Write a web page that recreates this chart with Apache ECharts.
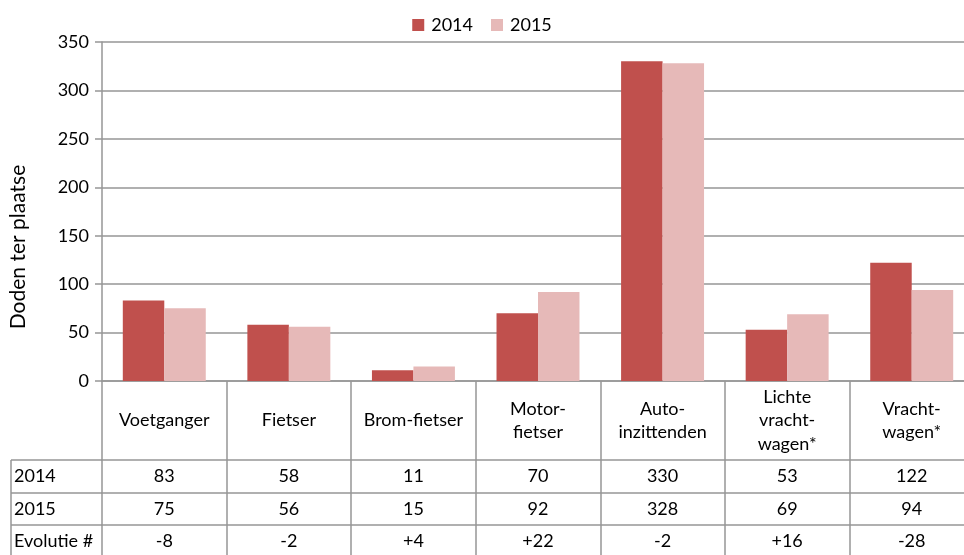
<!DOCTYPE html>
<html><head><meta charset="utf-8">
<script src="https://cdn.jsdelivr.net/npm/echarts@6/dist/echarts.min.js"></script>
<style>html,body{margin:0;padding:0;overflow:hidden;background:#fff}#c{width:964px;height:555px}</style>
</head><body><div id="c"></div>
<script>
const categories = ['Voetganger','Fietser','Brom-fietser','Motor-\nfietser','Auto-\ninzittenden','Lichte\nvracht-\nwagen*','Vracht-\nwagen*'];
const values2014 = [83,58,11,70,330,53,122];
const values2015 = [75,56,15,92,328,69,94];
const evolutie = ['-8','-2','+4','+22','-2','+16','-28'];
const rowLabels = ['2014','2015','Evolutie #'];
const yTicks = [0,50,100,150,200,250,300,350];

const FONT = 'Lato';
const FS = 18;
const LINE = '#969696';
const GRID_L = 102, GRID_T = 42, GRID_B = 174, GRID_W = 872;
const headerH = 79, rowH = [33, 32, 32];

const chart = echarts.init(document.getElementById('c'), null, {renderer:'canvas'});

function rowAxis(data, offset, h) {
  return {
    type:'category', data: data, gridIndex:0, position:'bottom', offset: offset,
    axisLine:{show:true, lineStyle:{color:LINE, width:1.5}},
    axisTick:{show:true, length:h, lineStyle:{color:LINE, width:1.5}},
    axisLabel:{show:true, margin:h/2, verticalAlign:'middle', color:'#000', fontFamily:FONT, fontSize:FS, interval:0},
    splitLine:{show:false}
  };
}

const baseY = 555 - GRID_B;
const y1 = baseY + headerH, y2 = y1 + rowH[0], y3 = y2 + rowH[1], y4 = y3 + rowH[2];
const graphics = [];
[y1, y2, y3, y4].forEach(function(y){
  graphics.push({type:'line', shape:{x1:11, y1:y, x2:GRID_L, y2:y}, style:{stroke:LINE, lineWidth:1.5}});
});
graphics.push({type:'line', shape:{x1:11, y1:y1, x2:11, y2:y4}, style:{stroke:LINE, lineWidth:1.5}});
[y1, y2, y3].forEach(function(y, i){
  graphics.push({type:'text', x:14, y:y + rowH[i]/2, style:{text:rowLabels[i], fill:'#000', font:FS + 'px ' + FONT, verticalAlign:'middle'}});
});
graphics.push({type:'text', x:18, y:247, rotation:Math.PI/2, style:{text:'Doden ter plaatse', fill:'#000', font:'21px ' + FONT, align:'center', verticalAlign:'middle'}});

chart.setOption({
  animation:false,
  color:['#C0504D','#E6B9B8'],
  legend:{top:11, left:'center', itemWidth:12, itemHeight:12, itemGap:18, icon:'rect',
    textStyle:{fontFamily:FONT, fontSize:FS, color:'#000', padding:[0,0,0,2]}, data:['2014','2015']},
  grid:{left:GRID_L, width:GRID_W, top:GRID_T, bottom:GRID_B, containLabel:false, outerBoundsMode:'none'},
  xAxis:[
    {type:'category', data:categories, position:'bottom',
      axisLine:{show:true, lineStyle:{color:LINE, width:1.5}},
      axisTick:{show:true, length:headerH, lineStyle:{color:LINE, width:1.5}},
      axisLabel:{margin:headerH/2, verticalAlign:'middle', color:'#000', fontFamily:FONT, fontSize:FS, lineHeight:23.5, interval:0},
      splitLine:{show:false}},
    rowAxis(values2014.map(String), headerH, rowH[0]),
    rowAxis(values2015.map(String), headerH + rowH[0], rowH[1]),
    rowAxis(evolutie, headerH + rowH[0] + rowH[1], rowH[2])
  ],
  yAxis:{type:'value', min:0, max:350, interval:50,
    axisLine:{show:true, lineStyle:{color:LINE, width:1.5}},
    axisTick:{show:true, length:7, lineStyle:{color:LINE, width:1.5}},
    axisLabel:{margin:13, color:'#000', fontFamily:FONT, fontSize:FS,
      formatter:function(v){ return yTicks.indexOf(v) >= 0 ? String(v) : ''; }},
    splitLine:{show:true, lineStyle:{color:LINE, width:1.5}}},
  series:[
    {name:'2014', type:'bar', data:values2014, barGap:'0%', barCategoryGap:'33.4%', xAxisIndex:0},
    {name:'2015', type:'bar', data:values2015, barGap:'0%', barCategoryGap:'33.4%', xAxisIndex:0}
  ],
  graphic:graphics
});
</script></body></html>
